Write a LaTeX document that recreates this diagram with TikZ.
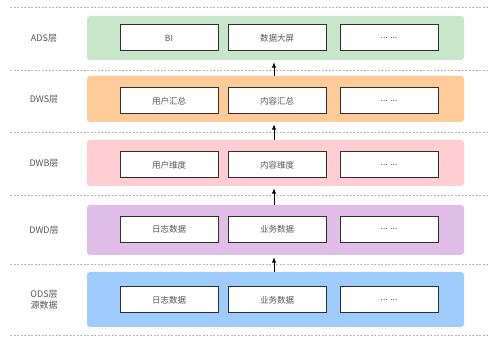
\documentclass[tikz,border=0pt]{standalone}
\usepackage{fontspec}
\setmainfont{Noto Sans CJK SC}
\usepackage{xcolor}
\usetikzlibrary{arrows.meta, positioning, calc}

\definecolor{adsgreen}{HTML}{C8E6C9}
\definecolor{dwsorange}{HTML}{FFCC99}
\definecolor{dwbpink}{HTML}{FFCDD2}
\definecolor{dwdpurple}{HTML}{E1BEE7}
\definecolor{odsblue}{HTML}{9ECCFF}
\definecolor{boxline}{HTML}{2E2E2E}
\definecolor{labelgray}{HTML}{555555}

\tikzset{
  layerband/.style={fill=#1, rounded corners=3pt, minimum width=377pt, inner sep=0pt},
  itembox/.style={draw=boxline, fill=white, line width=1pt, minimum width=98pt,
    minimum height=26pt, inner sep=0pt, text=labelgray, font=\fontsize{8.5}{10}\selectfont},
  layerlabel/.style={text=labelgray, align=center, font=\fontsize{9}{11}\selectfont},
  uparrow/.style={-{Latex[length=5.5pt,width=4.5pt]}, line width=0.9pt, shorten >=2pt},
  sepline/.style={gray!55, dash pattern=on 2pt off 1.5pt}
}

\begin{document}
\begin{tikzpicture}[x=1pt,y=-1pt]
\useasboundingbox (0,0) rectangle (499,342);
% separators
\foreach \y in {7,70,132,195,264,335} {\draw[sepline] (10,\y) -- (488,\y);}
% layers
\foreach \n/\c/\y/\h/\t in {ads/adsgreen/38/44/ADS层, dws/dwsorange/99/46/DWS层,
    dwb/dwbpink/163/46/DWB层, dwd/dwdpurple/230/50/DWD层, ods/odsblue/299.5/55/{ODS层\\源数据}} {
  \node[layerband=\c, minimum height=\h pt] (band-\n) at (275.5,\y) {};
  \node[layerlabel] (label-\n) at (44,\y) {\t};
}
% items
\foreach \n/\y/\a/\b in {ads/38/BI/数据大屏, dws/101/用户汇总/内容汇总, dwb/165/用户维度/内容维度,
    dwd/229.5/日志数据/业务数据, ods/300/日志数据/业务数据} {
  \node[itembox] (\n-1) at (169,\y) {\a};
  \node[itembox] (\n-2) at (277,\y) {\b};
  \node[itembox] (\n-3) at (389,\y) {... ...};
}
% flow
\foreach \lo/\hi in {dws/ads, dwb/dws, dwd/dwb, ods/dwd}
  \draw[uparrow] ($(band-\lo.north -| \lo-2.center)+(-3,0)$) -- ($(band-\hi.south -| \lo-2.center)+(-3,0)$);
\end{tikzpicture}
\end{document}
